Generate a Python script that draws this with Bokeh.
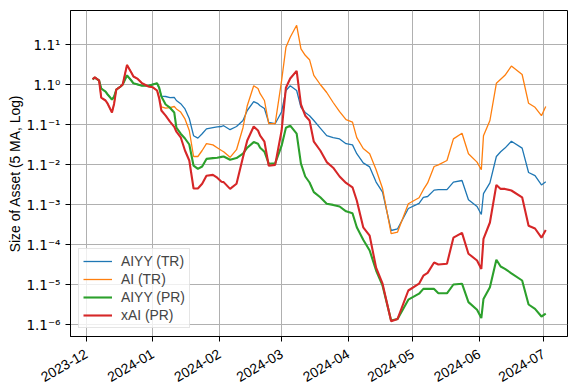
import math
import pandas as pd
from bokeh.plotting import figure
from bokeh.models import (Range1d, FixedTicker, CustomJSTickFormatter,
                          DatetimeTickFormatter, MonthsTicker)
from bokeh.embed import file_html
from bokeh.resources import INLINE

# Dates (5-day moving average samples)
dates = ["2023-12-04", "2023-12-05", "2023-12-07", "2023-12-08", "2023-12-10", "2023-12-11",
         "2023-12-13", "2023-12-14", "2023-12-15", "2023-12-17", "2023-12-18", "2023-12-20",
         "2023-12-22", "2023-12-23", "2023-12-25", "2023-12-27", "2023-12-30", "2024-01-01",
         "2024-01-03", "2024-01-04", "2024-01-05", "2024-01-07", "2024-01-09", "2024-01-11",
         "2024-01-12", "2024-01-14", "2024-01-16", "2024-01-18", "2024-01-20", "2024-01-22",
         "2024-01-24", "2024-01-26", "2024-01-29", "2024-01-31", "2024-02-02", "2024-02-03",
         "2024-02-06", "2024-02-09", "2024-02-12", "2024-02-14", "2024-02-17", "2024-02-19",
         "2024-02-20", "2024-02-22", "2024-02-24", "2024-02-27", "2024-03-01", "2024-03-03",
         "2024-03-05", "2024-03-08", "2024-03-10", "2024-03-12", "2024-03-14", "2024-03-16",
         "2024-03-19", "2024-03-22", "2024-03-25", "2024-03-28", "2024-03-31", "2024-04-03",
         "2024-04-05", "2024-04-08", "2024-04-11", "2024-04-14", "2024-04-17", "2024-04-21",
         "2024-04-24", "2024-04-29", "2024-05-04", "2024-05-06", "2024-05-08", "2024-05-11",
         "2024-05-13", "2024-05-17", "2024-05-20", "2024-05-24", "2024-05-27", "2024-05-31",
         "2024-06-02", "2024-06-03", "2024-06-06", "2024-06-09", "2024-06-11", "2024-06-13",
         "2024-06-16", "2024-06-21", "2024-06-24", "2024-06-27", "2024-06-30", "2024-07-02"]

# Size of asset expressed as exponent of 1.1 (log base 1.1)
aiyy_tr_log11 = [0.13, 0.17, 0.10, -0.10, -0.18, -0.25, -0.38, -0.30, -0.13, -0.05, 0.00, 0.23,
                 0.10, 0.03, 0.00, -0.03, -0.03, 0.00, 0.03, -0.10, -0.29, -0.30, -0.33, -0.32,
                 -0.40, -0.48, -0.61, -0.85, -1.28, -1.34, -1.23, -1.11, -1.08, -1.06, -1.05, -1.03,
                 -1.13, -1.05, -0.90, -0.65, -0.43, -0.48, -0.53, -0.60, -0.95, -0.98, -0.68, -0.15,
                 -0.03, -0.15, -0.57, -0.70, -0.78, -0.90, -1.09, -1.28, -1.33, -1.36, -1.48, -1.51,
                 -1.73, -1.96, -2.06, -2.44, -2.69, -3.65, -3.61, -3.10, -2.97, -2.82, -2.80, -2.64,
                 -2.63, -2.63, -2.44, -2.40, -2.88, -3.05, -3.25, -2.73, -2.46, -1.80, -1.68, -1.59,
                 -1.42, -1.59, -2.20, -2.28, -2.51, -2.43]

ai_tr_log11 = [0.13, 0.18, 0.10, -0.33, -0.40, -0.48, -0.70, -0.48, -0.13, -0.05, 0.00, 0.49,
               0.30, 0.20, 0.14, 0.03, -0.05, -0.07, -0.15, -0.33, -0.56, -0.59, -0.58, -0.55,
               -0.61, -0.69, -0.86, -1.15, -1.80, -1.80, -1.65, -1.48, -1.51, -1.58, -1.65, -1.68,
               -1.82, -1.63, -1.08, -0.53, -0.03, -0.10, -0.23, -0.40, -0.98, -0.98, 0.10, 0.93,
               1.18, 1.48, 0.89, 0.73, 0.62, 0.23, 0.00, -0.20, -0.45, -0.68, -0.88, -0.94,
               -1.33, -1.60, -1.73, -2.13, -2.60, -3.73, -3.69, -2.98, -2.83, -2.63, -2.46, -2.05,
               -2.01, -1.90, -1.36, -1.22, -1.73, -1.94, -2.13, -1.28, -0.90, 0.03, 0.13, 0.23,
               0.46, 0.25, -0.47, -0.57, -0.78, -0.55]

aiyy_pr_log11 = [0.13, 0.17, 0.10, -0.10, -0.18, -0.25, -0.38, -0.30, -0.13, -0.05, 0.00, 0.23,
                 0.10, 0.03, 0.00, -0.03, -0.03, 0.00, 0.03, -0.08, -0.30, -0.50, -0.58, -0.70,
                 -1.08, -1.23, -1.35, -1.50, -2.03, -2.11, -2.05, -1.86, -1.84, -1.83, -1.81, -1.80,
                 -1.88, -1.84, -1.73, -1.58, -1.44, -1.48, -1.58, -1.68, -1.98, -1.97, -1.53, -1.08,
                 -1.03, -1.23, -1.98, -2.30, -2.45, -2.69, -2.82, -2.98, -3.01, -3.05, -3.17, -3.22,
                 -3.57, -3.88, -4.15, -4.65, -5.03, -5.90, -5.86, -5.38, -5.23, -5.11, -5.11, -5.11,
                 -5.22, -5.22, -5.00, -4.98, -5.44, -5.63, -5.84, -5.36, -5.07, -4.38, -4.55, -4.61,
                 -4.72, -4.90, -5.50, -5.61, -5.80, -5.73]

xai_pr_log11 = [0.13, 0.18, 0.10, -0.33, -0.40, -0.48, -0.70, -0.48, -0.13, -0.05, 0.00, 0.49,
                0.30, 0.20, 0.14, 0.03, -0.05, -0.07, -0.15, -0.35, -0.65, -0.78, -0.93, -1.06,
                -1.18, -1.32, -1.65, -1.90, -2.60, -2.60, -2.48, -2.28, -2.26, -2.33, -2.43, -2.44,
                -2.61, -2.48, -1.82, -1.40, -1.05, -1.15, -1.28, -1.43, -2.03, -2.01, -1.15, -0.08,
                0.15, 0.34, -0.50, -0.78, -0.90, -1.43, -1.65, -1.94, -2.08, -2.30, -2.46, -2.57,
                -2.90, -3.57, -3.78, -4.58, -4.98, -5.92, -5.86, -5.15, -4.98, -4.78, -4.71, -4.45,
                -4.50, -4.48, -3.83, -3.71, -4.23, -4.40, -4.61, -3.86, -3.45, -2.51, -2.61, -2.61,
                -2.65, -2.82, -3.53, -3.60, -3.83, -3.64]

series_names = ["AIYY (TR)", "AI (TR)", "AIYY (PR)", "xAI (PR)"]
series_vals = [aiyy_tr_log11, ai_tr_log11, aiyy_pr_log11, xai_pr_log11]
series_colors = ["#1f77b4", "#ff7f0e", "#2ca02c", "#d62728"]
series_widths = [1.3, 1.3, 2.1, 2.1]
y_tick_exponents = [-6, -5, -4, -3, -2, -1, 0, 1]

FONT = "Liberation Sans"
x = pd.to_datetime(dates)
x_start = pd.Timestamp("2023-11-23 16:30")
x_end = pd.Timestamp("2024-07-12 03:00")

p = figure(x_axis_type="datetime", y_axis_type="log",
           frame_width=497, frame_height=326,
           min_border_left=70, min_border_right=8, min_border_top=10, min_border_bottom=56,
           x_range=Range1d(x_start, x_end),
           y_range=Range1d(1.1 ** -6.3, 1.1 ** 1.85),
           output_backend="svg", toolbar_location=None)

for name, vals, col, w in zip(series_names, series_vals, series_colors, series_widths):
    sizes = [1.1 ** v for v in vals]
    p.line(x, sizes, line_color=col, line_width=w, legend_label=name)

p.background_fill_color = "white"
p.border_fill_color = "white"
p.outline_line_color = "black"
p.outline_line_width = 1
p.outline_line_alpha = 1

for g in (p.xgrid, p.ygrid):
    g.grid_line_color = "#b0b0b0"
    g.grid_line_width = 1

p.yaxis.ticker = FixedTicker(ticks=[1.1 ** k for k in y_tick_exponents])
p.yaxis.formatter = CustomJSTickFormatter(code="""
const sup = {"0":"\u2070","1":"\u00b9","2":"\u00b2","3":"\u00b3","4":"\u2074","5":"\u2075",
             "6":"\u2076","7":"\u2077","8":"\u2078","9":"\u2079","-":"\u207b"};
const k = Math.round(Math.log(tick) / Math.log(1.1));
return "1.1" + String(k).split("").map(c => sup[c]).join("");
""")
p.xaxis.ticker = MonthsTicker(months=list(range(12)))
p.xaxis.formatter = DatetimeTickFormatter(months="%Y-%m", days="%Y-%m", years="%Y-%m")
p.xaxis.major_label_orientation = math.pi / 6
p.xaxis.major_label_standoff = 11

for ax in (p.xaxis, p.yaxis):
    ax.axis_line_color = "black"
    ax.major_tick_line_color = "black"
    ax.major_tick_out = 5
    ax.major_tick_in = 0
    ax.minor_tick_line_color = None
    ax.major_label_text_font = FONT
    ax.major_label_text_font_size = "13.9px"
    ax.major_label_text_color = "black"

p.yaxis.major_label_text_font = "DejaVu Sans"
p.yaxis.major_label_text_font_size = "13.5px"
p.yaxis.major_label_standoff = 5

p.yaxis.axis_label = "Size of Asset (5 MA, Log)"
p.yaxis.axis_label_text_font = FONT
p.yaxis.axis_label_text_font_size = "13.9px"
p.yaxis.axis_label_text_font_style = "normal"
p.yaxis.axis_label_text_color = "black"
p.yaxis.axis_label_standoff = 0

leg = p.legend[0]
leg.location = "bottom_left"
leg.margin = 8
leg.padding = 4
leg.spacing = 2
leg.glyph_width = 29
leg.glyph_height = 14
leg.label_height = 14
leg.label_standoff = 9
leg.label_text_font = FONT
leg.label_text_font_size = "13.9px"
leg.border_line_color = "#cccccc"
leg.border_line_width = 1
leg.background_fill_alpha = 0.8

open("out.html", "w", encoding="utf-8").write(file_html(p, INLINE))
